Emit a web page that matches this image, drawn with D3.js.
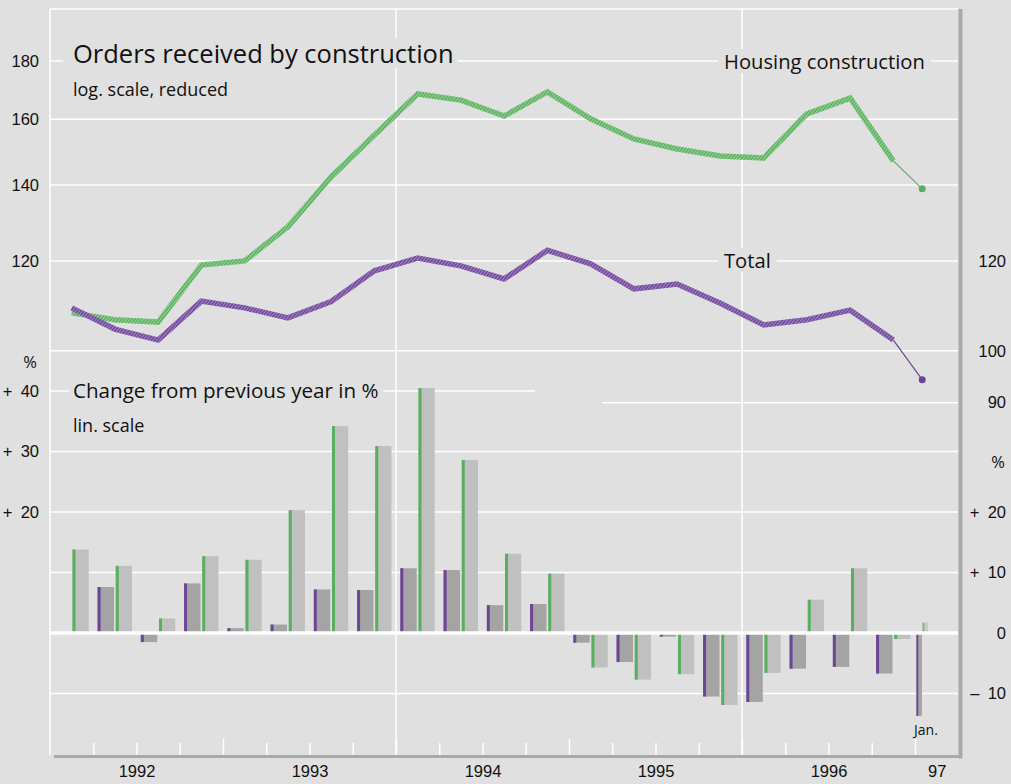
<!DOCTYPE html>
<html>
<head>
  <meta charset="utf-8">
  <title>Orders received by construction</title>
  <script src="https://d3js.org/d3.v7.min.js"></script>
  <style>
    body { margin: 0; background: #e0e0e0; }
    svg { display: block; font-family: "Open Sans", sans-serif; fill: #111; }
    .grid line { stroke: #fff; stroke-width: 1.5; }
    .axis text { font-size: 16.5px; fill: #111; }
    .axis path, .axis line { display: none; }
    .ticks line { stroke: #fff; stroke-width: 1.5; }
    .ticks path { display: none; }
  </style>
</head>
<body>
<svg width="1011" height="784"></svg>
<script>
// quarters 1992 Q1 .. 1996 Q4, then January 1997
const periods = ["92Q1","92Q2","92Q3","92Q4","93Q1","93Q2","93Q3","93Q4",
  "94Q1","94Q2","94Q3","94Q4","95Q1","95Q2","95Q3","95Q4",
  "96Q1","96Q2","96Q3","96Q4","97Jan"];

// index, log scale (housing construction and total, reduced)
const housingIndex = [108.0,106.5,106.0,119.0,120.0,128.6,142.3,154.9,168.4,166.3,
  161.0,169.1,160.1,153.7,150.6,148.5,147.9,161.7,167.0,147.0,138.9];
const totalIndex = [109.1,104.5,102.2,110.6,109.1,106.9,110.5,117.6,120.7,118.8,
  115.7,122.6,119.3,113.4,114.5,110.1,105.4,106.5,108.6,102.2,94.3];

// change from previous year in %
const housingChange = [13.8,11.1,2.4,12.7,12.1,20.3,34.2,30.9,40.5,28.6,
  13.1,9.8,-5.7,-7.7,-6.8,-11.9,-6.6,5.5,10.7,-1.0,1.7];
const totalChange = [null,7.6,-1.5,8.2,0.8,1.4,7.2,7.1,10.7,10.4,
  4.6,4.8,-1.6,-4.8,-0.6,-10.5,-11.4,-5.9,-5.6,-6.7,-13.7];

const leftIndexTicks = [120,140,160,180];
const rightIndexTicks = [90,100,120];
const leftChangeTicks = [20,30,40];
const rightChangeTicks = [-10,0,10,20];
const yearLabels = [["1992",6],["1993",18],["1994",30],["1995",42],["1996",54],["97",61.5]];

const bg = "#e0e0e0";
const green = "#5aae5f", greenLight = "#96d496";
const purple = "#6d4596", purpleLight = "#a585c8";

const svg = d3.select("svg");
const L = 50, R = 958, T = 9, B = 755;

// months since Jan 1992
const x = d3.scaleLinear().domain([0, 60]).range([L, 915]);
const yLog = d3.scaleLog().domain([90, 180]).range([402.7, 61.1]);
const yBar = d3.scaleLinear().domain([-10, 40]).range([693.5, 391]);

const start = i => i < 20 ? i * 3 : 60;
const len = i => i < 20 ? 3 : 1;

// hatch patterns for the index lines
const defs = svg.append("defs");
[["hatchG", green, greenLight], ["hatchP", purple, purpleLight]].forEach(([id, c1, c2]) => {
  const p = defs.append("pattern").attr("id", id)
    .attr("patternUnits", "userSpaceOnUse").attr("width", 2.6).attr("height", 2.6)
    .attr("patternTransform", "rotate(40)");
  p.append("rect").attr("width", 2.6).attr("height", 2.6).attr("fill", c1);
  p.append("rect").attr("width", 1.1).attr("height", 2.6).attr("fill", c2);
});

// grid
const grid = svg.append("g").attr("class", "grid");
grid.selectAll(".h").data([180,160,140,120,100]).join("line")
  .attr("x1", L).attr("x2", R).attr("y1", d => yLog(d)).attr("y2", d => yLog(d));
grid.append("line").attr("x1", 602).attr("x2", R).attr("y1", yLog(90)).attr("y2", yLog(90));
grid.selectAll(".b").data([30,20,10,-10]).join("line")
  .attr("x1", L).attr("x2", R).attr("y1", d => yBar(d)).attr("y2", d => yBar(d));
grid.append("line").attr("x1", L).attr("x2", 535).attr("y1", yBar(40)).attr("y2", yBar(40));
grid.append("line").attr("x1", L).attr("x2", R).attr("y1", T).attr("y2", T);
grid.selectAll(".v").data([0, 24, 48]).join("line")
  .attr("x1", d => x(d)).attr("x2", d => x(d)).attr("y1", T).attr("y2", B);

// bottom ticks
const qTicks = d3.range(3, 61, 3);
svg.append("g").attr("class", "ticks").attr("transform", `translate(0,${B})`)
  .call(d3.axisBottom(x).tickValues(qTicks.filter(d => d % 12)).tickSize(-12).tickFormat(""));
svg.append("g").attr("class", "ticks").attr("transform", `translate(0,${B})`)
  .call(d3.axisBottom(x).tickValues(qTicks.filter(d => d % 12 === 0)).tickSize(-16).tickFormat(""));

// labels with background boxes
function label(txt, tx, ty, size, padL = 6, padR = 6) {
  const g = svg.append("g");
  const t = g.append("text").attr("x", tx).attr("y", ty).attr("font-size", size).text(txt);
  const b = t.node().getBBox();
  g.insert("rect", "text").attr("x", b.x - padL).attr("y", b.y + 2)
    .attr("width", b.width + padL + padR).attr("height", b.height - 4).attr("fill", bg);
  return g;
}
label("Orders received by construction", 73, 63, 25.5, 10, 4);
label("log. scale, reduced", 73, 95.5, 18);
label("Housing construction", 724, 69, 20.2);
label("Total", 724, 268, 20.2);
label("Change from previous year in %", 73, 398, 20.6, 4, 5);
label("lin. scale", 73, 431.5, 18);

// bars
const bars = svg.append("g");
const barData = periods.map((p, i) => ({ i, s: start(i), l: len(i), h: housingChange[i], t: totalChange[i] }));
function drawBars(key, f0, f1, fill, stripe) {
  const d = barData.filter(b => b[key] != null);
  const g = bars.append("g");
  g.selectAll("rect.body").data(d).join("rect")
    .attr("x", b => x(b.s + f0 * b.l)).attr("width", b => x(b.s + f1 * b.l) - x(b.s + f0 * b.l))
    .attr("y", b => yBar(Math.max(0, b[key]))).attr("height", b => Math.abs(yBar(b[key]) - yBar(0)))
    .attr("fill", fill).attr("opacity", b => b.i === 20 && key === "h" ? 0.75 : 1);
  g.selectAll("rect.stripe").data(d).join("rect")
    .attr("x", b => x(b.s + f0 * b.l)).attr("width", b => b.i === 20 ? 1.8 : 3)
    .attr("y", b => yBar(Math.max(0, b[key]))).attr("height", b => Math.abs(yBar(b[key]) - yBar(0)))
    .attr("fill", stripe).attr("opacity", b => b.i === 20 && key === "h" ? 0.7 : 1);
}
drawBars("t", 0.1, 0.48, "#a4a4a4", purple);
drawBars("h", 0.52, 0.895, "#c0c0c0", green);

// zero line
svg.append("line").attr("x1", L).attr("x2", R).attr("y1", yBar(0)).attr("y2", yBar(0))
  .attr("stroke", "#fff").attr("stroke-width", 3.5);

// index lines
const px = i => x(start(i) + len(i) / 2);
function series(vals, hatch, color) {
  const line = d3.line().x((d, i) => px(i)).y(d => yLog(d));
  svg.append("path").datum(vals.slice(0, 20)).attr("d", line)
    .attr("fill", "none").attr("stroke", `url(#${hatch})`).attr("stroke-width", 5.5)
    .attr("stroke-linejoin", "miter");
  svg.append("line").attr("x1", px(19)).attr("y1", yLog(vals[19]))
    .attr("x2", px(20)).attr("y2", yLog(vals[20])).attr("stroke", color).attr("stroke-width", 1.2);
  svg.append("circle").attr("cx", px(20)).attr("cy", yLog(vals[20])).attr("r", 3.5).attr("fill", color);
}
series(housingIndex, "hatchG", green);
series(totalIndex, "hatchP", purple);

// axes
function styleAxis(g) { g.select(".domain").remove(); }
svg.append("g").attr("class", "axis").attr("transform", `translate(${L},0)`)
  .call(d3.axisLeft(yLog).tickValues(leftIndexTicks).tickFormat(d3.format("d")).tickSize(0).tickPadding(11))
  .call(styleAxis);
svg.append("g").attr("class", "axis").attr("transform", `translate(${L},0)`)
  .call(d3.axisLeft(yBar).tickValues(leftChangeTicks).tickFormat(d => "+\u2002" + d).tickSize(0).tickPadding(11))
  .call(styleAxis);
svg.append("g").attr("class", "axis").attr("transform", "translate(960,0)")
  .call(d3.axisRight(yLog).tickValues(rightIndexTicks).tickFormat(d3.format("d")).tickSize(0))
  .call(styleAxis)
  .selectAll("text").attr("text-anchor", "end").attr("x", 46);
svg.append("g").attr("class", "axis").attr("transform", "translate(960,0)")
  .call(d3.axisRight(yBar).tickValues(rightChangeTicks)
    .tickFormat(d => d > 0 ? "+\u2002" + d : d < 0 ? "\u2013\u2002" + (-d) : "0").tickSize(0))
  .call(styleAxis)
  .selectAll("text").attr("text-anchor", "end").attr("x", 46);

svg.append("text").attr("x", 30).attr("y", 368).attr("font-size", 16.5).attr("text-anchor", "middle").text("%");
svg.append("text").attr("x", 998).attr("y", 468).attr("font-size", 16.5).attr("text-anchor", "middle").text("%");

// year labels
svg.append("g").attr("class", "axis").attr("transform", `translate(0,${B})`)
  .call(d3.axisBottom(x).tickValues(yearLabels.map(d => d[1]))
    .tickFormat((d, i) => yearLabels[i][0]).tickSize(0).tickPadding(10))
  .call(styleAxis)
  .selectAll("text").attr("font-size", 18.5).attr("dy", "0.71em");

svg.append("text").attr("x", 914).attr("y", 735).attr("font-size", 14).text("Jan.");

// frame
svg.append("line").attr("x1", 960.5).attr("x2", 960.5).attr("y1", T).attr("y2", 758.5)
  .attr("stroke", "#a9a9a9").attr("stroke-width", 4);
svg.append("line").attr("x1", 54).attr("x2", 962).attr("y1", 756.5).attr("y2", 756.5)
  .attr("stroke", "#a9a9a9").attr("stroke-width", 3);
</script>
</body>
</html>
